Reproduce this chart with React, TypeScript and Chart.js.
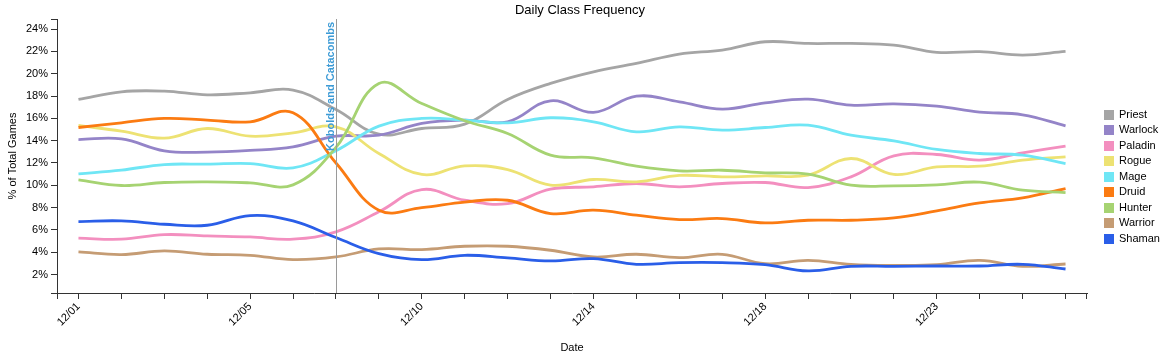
import React, { useEffect, useRef } from 'react';
import { Chart, registerables } from 'chart.js';

Chart.register(...registerables);

const dates = ['12/01', '12/02', '12/03', '12/04', '12/05', '12/06', '12/07', '12/09', '12/10', '12/11', '12/12', '12/13', '12/14', '12/15', '12/16', '12/17', '12/18', '12/19', '12/20', '12/21', '12/23', '12/24', '12/25', '12/26'];
const classNames = ['Priest', 'Warlock', 'Paladin', 'Rogue', 'Mage', 'Druid', 'Hunter', 'Warrior', 'Shaman'];
const priest = [17.69, 18.38, 18.44, 18.11, 18.29, 18.53, 16.79, 14.58, 15.09, 15.48, 17.69, 19.13, 20.17, 20.92, 21.76, 22.12, 22.86, 22.71, 22.71, 22.56, 21.91, 21.97, 21.67, 21.99];
const warlock = [14.1, 14.16, 13.09, 12.97, 13.12, 13.45, 14.4, 14.49, 15.54, 15.84, 15.69, 17.57, 16.53, 17.99, 17.48, 16.83, 17.39, 17.72, 17.18, 17.3, 17.09, 16.56, 16.32, 15.33];
const paladin = [5.26, 5.17, 5.58, 5.46, 5.37, 5.17, 5.82, 7.62, 9.62, 8.66, 8.36, 9.65, 9.86, 10.16, 9.86, 10.16, 10.25, 9.8, 10.76, 12.64, 12.76, 12.25, 12.91, 13.51];
const rogue = [15.36, 14.85, 14.22, 15.09, 14.4, 14.7, 15.24, 12.85, 10.97, 11.74, 11.4, 10.01, 10.52, 10.31, 10.88, 10.76, 10.85, 10.91, 12.4, 10.97, 11.65, 11.71, 12.25, 12.55];
const mage = [11.03, 11.36, 11.86, 11.89, 11.95, 11.56, 13.1, 15.3, 15.99, 15.84, 15.6, 16.05, 15.69, 14.79, 15.24, 14.94, 15.18, 15.39, 14.49, 13.98, 13.21, 12.85, 12.7, 11.95];
const druid = [15.18, 15.6, 15.99, 15.84, 15.69, 16.5, 12.0, 7.77, 8.0, 8.5, 8.66, 7.47, 7.77, 7.32, 6.93, 7.02, 6.63, 6.87, 6.87, 7.08, 7.71, 8.42, 8.87, 9.71];
const hunter = [10.49, 9.98, 10.25, 10.31, 10.22, 10.04, 13.4, 19.13, 17.33, 15.78, 14.64, 12.7, 12.46, 11.71, 11.29, 11.35, 11.12, 11.0, 10.01, 9.95, 10.04, 10.28, 9.56, 9.35];
const warrior = [4.03, 3.79, 4.12, 3.82, 3.73, 3.34, 3.58, 4.3, 4.24, 4.54, 4.54, 4.18, 3.58, 3.82, 3.52, 3.82, 2.98, 3.28, 2.92, 2.83, 2.89, 3.28, 2.74, 2.95];
const shaman = [6.75, 6.81, 6.51, 6.42, 7.29, 6.81, 5.32, 3.88, 3.34, 3.73, 3.49, 3.22, 3.43, 2.92, 3.07, 3.07, 2.89, 2.33, 2.74, 2.74, 2.77, 2.77, 2.92, 2.5];
const seriesValues = [priest, warlock, paladin, rogue, mage, druid, hunter, warrior, shaman];
const seriesColors = ['#a5a5a5', '#9484c8', '#f38fbf', '#ede273', '#6fe6f5', '#fb7b12', '#a6d372', '#c59c74', '#2a5ee8'];
const yTicks = [2, 4, 6, 8, 10, 12, 14, 16, 18, 20, 22, 24];
const expansionLabel = 'Kobolds and Catacombs';
const expansionIndex = 6;
const chartTitle = 'Daily Class Frequency';
const xTitle = 'Date';
const yTitle = '% of Total Games';

const FONT = 'Arial, "Liberation Sans", sans-serif';

const decorPlugin = {
  id: 'decor',
  afterDatasetsDraw(chart: any) {
    const { ctx, chartArea: a, scales } = chart;
    const x = scales.x;
    const px = Math.round(x.getPixelForValue(expansionIndex)) + 0.5;
    ctx.save();
    ctx.strokeStyle = '#9a9a9a';
    ctx.lineWidth = 1;
    ctx.beginPath();
    ctx.moveTo(px, a.top);
    ctx.lineTo(px, a.bottom);
    ctx.stroke();
    ctx.translate(px - 3, a.top + 3);
    ctx.rotate(-Math.PI / 2);
    ctx.font = `bold 11px ${FONT}`;
    ctx.fillStyle = '#3d9bd6';
    ctx.textAlign = 'right';
    ctx.textBaseline = 'alphabetic';
    ctx.fillText(expansionLabel, 0, 0);
    ctx.restore();
  },
  afterDraw(chart: any) {
    const { ctx, chartArea: a } = chart;
    ctx.save();
    // outer ticks
    ctx.strokeStyle = '#333';
    ctx.lineWidth = 1;
    ctx.beginPath();
    ctx.moveTo(a.left - 6, Math.round(a.top) + 0.5);
    ctx.lineTo(a.left, Math.round(a.top) + 0.5);
    ctx.moveTo(a.left - 6, Math.round(a.bottom) + 0.5);
    ctx.lineTo(a.left, Math.round(a.bottom) + 0.5);
    ctx.moveTo(Math.round(a.left) + 0.5, a.bottom);
    ctx.lineTo(Math.round(a.left) + 0.5, a.bottom + 6);
    ctx.moveTo(Math.round(a.right) - 0.5, a.bottom);
    ctx.lineTo(Math.round(a.right) - 0.5, a.bottom + 6);
    ctx.stroke();

    ctx.fillStyle = '#000';
    ctx.textAlign = 'center';
    ctx.textBaseline = 'middle';
    ctx.font = `13px ${FONT}`;
    ctx.fillText(chartTitle, 580, 10);
    ctx.font = `11px ${FONT}`;
    ctx.fillText(xTitle, (a.left + a.right) / 2, 348);
    ctx.save();
    ctx.translate(13, (a.top + a.bottom) / 2);
    ctx.rotate(-Math.PI / 2);
    ctx.fillText(yTitle, 0, 0);
    ctx.restore();

    // legend
    ctx.textAlign = 'left';
    chart.data.datasets.forEach((ds: any, i: number) => {
      const cy = 114.5 + 15.5 * i;
      ctx.fillStyle = ds.borderColor;
      ctx.fillRect(1104, Math.round(cy - 5), 10, 10);
      ctx.fillStyle = '#000';
      ctx.fillText(ds.label, 1119, cy);
    });
    ctx.restore();
  },
};

export default function App() {
  const canvasRef = useRef<HTMLCanvasElement | null>(null);

  useEffect(() => {
    document.body.style.margin = '0';
    const canvas = canvasRef.current;
    if (!canvas) return;
    const chart = new Chart(canvas, {
      type: 'line',
      data: {
        labels: dates,
        datasets: classNames.map((name, i) => ({
          label: name,
          data: seriesValues[i],
          borderColor: seriesColors[i],
          backgroundColor: seriesColors[i],
          borderWidth: 2.8,
          pointRadius: 0,
          pointHoverRadius: 0,
          tension: 0.4,
          fill: false,
          order: classNames.length - i,
        })),
      },
      options: {
        animation: false,
        responsive: false,
        maintainAspectRatio: false,
        layout: { padding: { top: 19, right: 88, left: 0, bottom: 0 } },
        plugins: {
          legend: { display: false },
          title: { display: false },
          tooltip: { enabled: false },
        },
        scales: {
          x: {
            type: 'category',
            offset: true,
            afterFit: (scale: any) => {
              scale.height = 65;
            },
            grid: {
              offset: false,
              drawOnChartArea: false,
              drawTicks: true,
              tickLength: 6,
              color: '#333',
            },
            border: { display: true, color: '#333', width: 1 },
            ticks: {
              autoSkip: false,
              maxRotation: 45,
              minRotation: 45,
              padding: 1,
              color: '#000',
              font: { family: FONT, size: 11 },
              callback: (_v: any, idx: number) => (idx % 4 === 0 ? dates[idx] : ''),
            },
          },
          y: {
            type: 'linear',
            min: 0.35,
            max: 24.9,
            afterFit: (scale: any) => {
              scale.width = 57;
            },
            afterBuildTicks: (scale: any) => {
              scale.ticks = yTicks.map((v) => ({ value: v }));
            },
            grid: {
              drawOnChartArea: false,
              drawTicks: true,
              tickLength: 6,
              color: '#333',
            },
            border: { display: true, color: '#333', width: 1 },
            ticks: {
              padding: 3,
              color: '#000',
              font: { family: FONT, size: 11 },
              callback: (v: any) => `${v}%`,
            },
          },
        },
      },
      plugins: [decorPlugin],
    });
    return () => chart.destroy();
  }, []);

  return (
    <div style={{ width: 1175, height: 358, background: '#fff' }}>
      <canvas ref={canvasRef} width={1175} height={358} style={{ display: 'block', width: 1175, height: 358 }} />
    </div>
  );
}
